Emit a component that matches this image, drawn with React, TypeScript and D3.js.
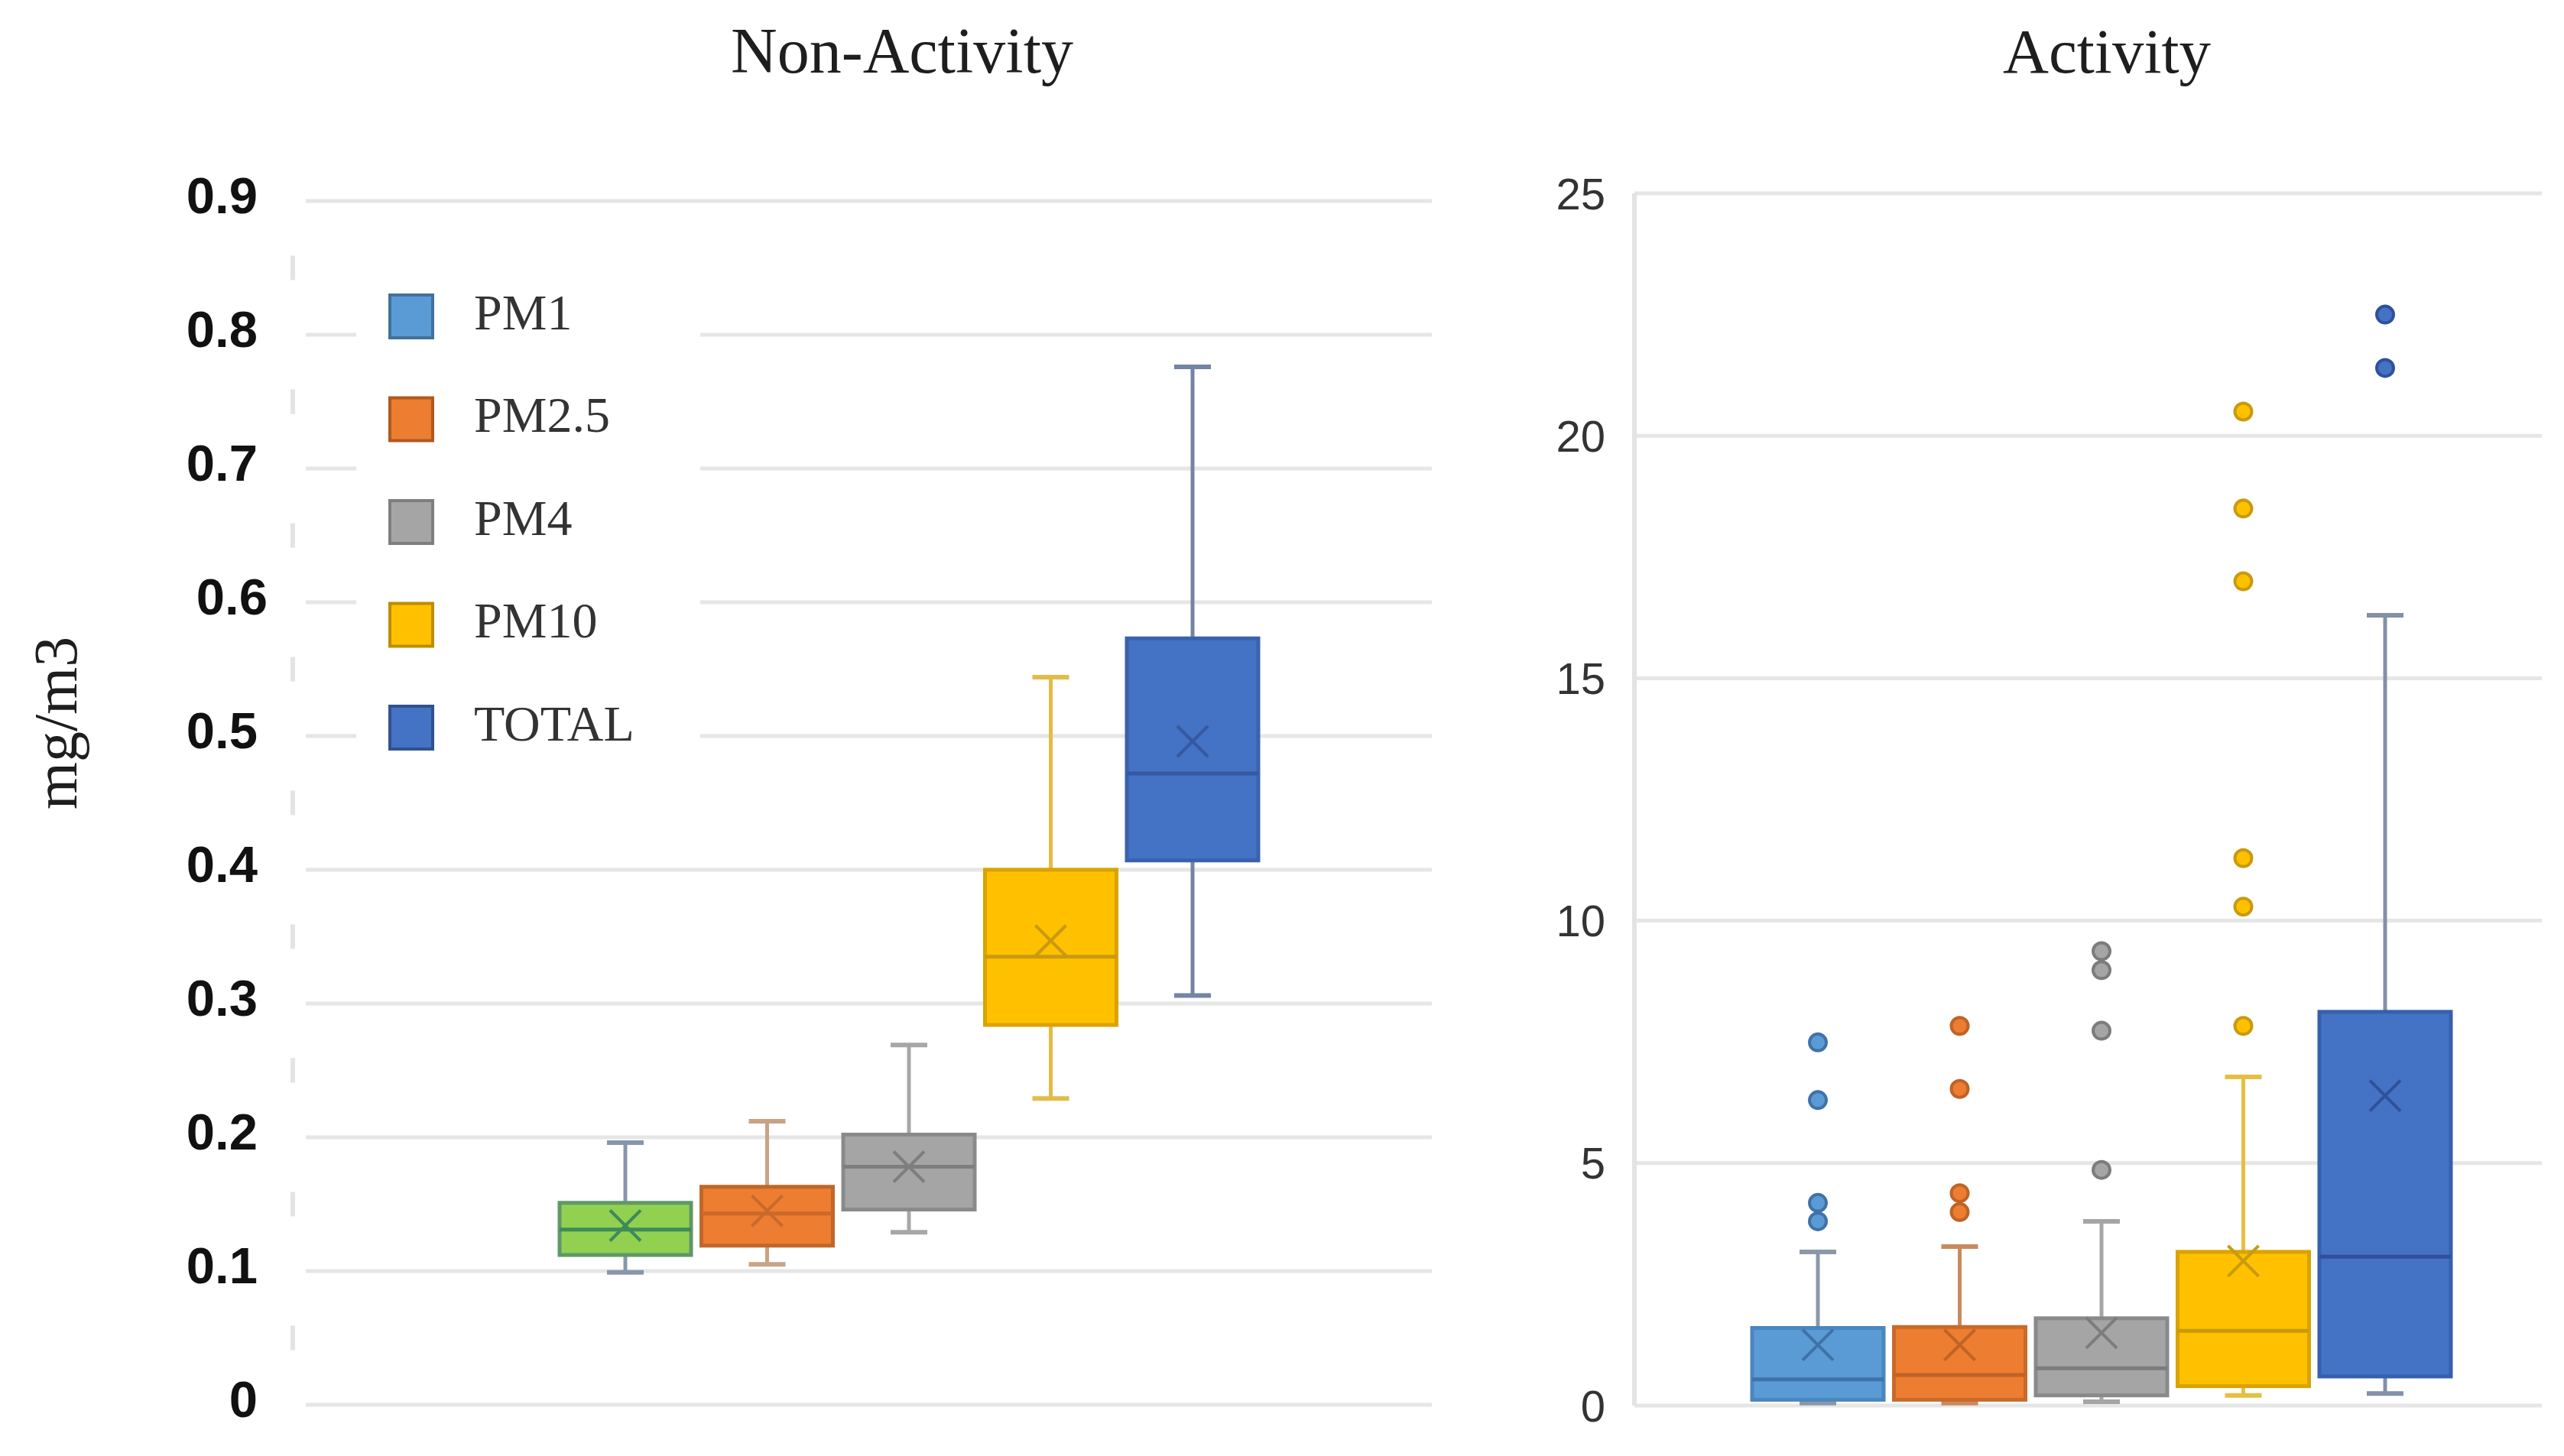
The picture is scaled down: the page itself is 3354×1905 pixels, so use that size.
import React from "react";
import * as d3 from "d3";

// categories and legend
const series = ["PM1", "PM2.5", "PM4", "PM10", "TOTAL"];

// Non-Activity (mg/m3)
const nonActLow = [0.099, 0.105, 0.129, 0.229, 0.306];
const nonActQ1 = [0.112, 0.119, 0.146, 0.284, 0.407];
const nonActMedian = [0.131, 0.143, 0.178, 0.335, 0.472];
const nonActQ3 = [0.151, 0.163, 0.202, 0.4, 0.573];
const nonActHigh = [0.196, 0.212, 0.269, 0.544, 0.776];
const nonActMean = [0.134, 0.145, 0.178, 0.347, 0.496];
const nonActTicks = [0, 0.1, 0.2, 0.3, 0.4, 0.5, 0.6, 0.7, 0.8, 0.9];

// Activity (mg/m3)
const actLow = [0.05, 0.05, 0.08, 0.21, 0.25];
const actQ1 = [0.12, 0.12, 0.21, 0.4, 0.6];
const actMedian = [0.54, 0.63, 0.77, 1.54, 3.07];
const actQ3 = [1.6, 1.62, 1.8, 3.17, 8.12];
const actHigh = [3.17, 3.28, 3.8, 6.78, 16.3];
const actMean = [1.25, 1.25, 1.5, 2.98, 6.39];
const actOutliers = [
  [7.49, 6.3, 4.18, 3.8],
  [7.83, 6.53, 4.38, 3.99],
  [9.37, 8.98, 7.73, 4.86],
  [20.5, 18.5, 17.0, 11.29, 10.29, 7.83],
  [22.5, 21.4],
];
const actTicks = [0, 5, 10, 15, 20, 25];

// styles
const legendFill = ["#5B9BD5", "#ED7D31", "#A5A5A5", "#FFC000", "#4472C4"];
const legendStroke = ["#41719C", "#AE5A21", "#7F7F7F", "#BC8C00", "#2F528F"];
const nonActFill = ["#92D050", "#ED7D31", "#A5A5A5", "#FFC000", "#4472C4"];
const nonActStroke = ["#5E9868", "#C0672A", "#8A8A8A", "#D9A300", "#3A62AC"];
const nonActWhisker = ["#8796AC", "#C9A386", "#A7A7A7", "#E3BC48", "#7384A4"];
const nonActMark = ["#3F8A5A", "#C96A2A", "#7E7E7E", "#C99A10", "#3658A0"];
const actStroke = ["#4A86C0", "#C86A2A", "#8A8A8A", "#D9A300", "#3660AE"];
const actWhisker = ["#8C98A8", "#C98A5E", "#A5A5A5", "#E6BF42", "#8290A8"];
const actMark = ["#3F72A8", "#BF6326", "#7C7C7C", "#C99A10", "#2F519A"];

const W = 3354;
const H = 1905;
const boxW = 172;
const capW = 48;

const gridColor = "#e6e6e6";

type BoxProps = {
  cx: number;
  y: d3.ScaleLinear<number, number>;
  low: number;
  q1: number;
  median: number;
  q3: number;
  high: number;
  mean: number;
  fill: string;
  stroke: string;
  whisker: string;
  mark: string;
  outliers?: number[];
};

function Box({ cx, y, low, q1, median, q3, high, mean, fill, stroke, whisker, mark, outliers = [] }: BoxProps) {
  const m = 20;
  const my = y(mean);
  return (
    <g>
      <line x1={cx} x2={cx} y1={y(high)} y2={y(q3)} stroke={whisker} strokeWidth={5} />
      <line x1={cx} x2={cx} y1={y(q1)} y2={y(low)} stroke={whisker} strokeWidth={5} />
      <line x1={cx - capW / 2} x2={cx + capW / 2} y1={y(high)} y2={y(high)} stroke={whisker} strokeWidth={6} />
      <line x1={cx - capW / 2} x2={cx + capW / 2} y1={y(low)} y2={y(low)} stroke={whisker} strokeWidth={6} />
      <rect
        x={cx - boxW / 2}
        y={y(q3)}
        width={boxW}
        height={y(q1) - y(q3)}
        fill={fill}
        stroke={stroke}
        strokeWidth={5}
      />
      <line x1={cx - boxW / 2} x2={cx + boxW / 2} y1={y(median)} y2={y(median)} stroke={mark} strokeWidth={5} />
      <line x1={cx - m} x2={cx + m} y1={my - m} y2={my + m} stroke={mark} strokeWidth={4} />
      <line x1={cx - m} x2={cx + m} y1={my + m} y2={my - m} stroke={mark} strokeWidth={4} />
      {outliers.map((o, i) => (
        <circle key={i} cx={cx} cy={y(o)} r={11} fill={fill} stroke={mark} strokeWidth={4} />
      ))}
    </g>
  );
}

export default function App() {
  const yL = d3.scaleLinear().domain([0, 0.9]).range([1838, 263]);
  const yR = d3.scaleLinear().domain([0, 25]).range([1839, 253]);
  const xL = d3.scalePoint<string>().domain(series).range([818, 1560]);
  const xR = d3.scalePoint<string>().domain(series).range([2378, 3120]);

  const leftGrid = [400, 1873];
  const rightGrid = [2138, 3325];

  // faint dashes of the left axis, half way between ticks
  const halfTicks = d3.pairs(nonActTicks).map(([a, b]) => (a + b) / 2);

  const legendY = d3.scalePoint<string>().domain(series).range([414, 952]);

  return (
    <svg
      width={W}
      height={H}
      viewBox={`0 0 ${W} ${H}`}
      style={{ position: "absolute", left: 0, top: 0, background: "#fff" }}
    >
      <rect width={W} height={H} fill="#fff" />

      {/* titles */}
      <text x={1180} y={95} textAnchor="middle" fontFamily="Liberation Serif" fontSize={84} fill="#1e1e1e">
        Non-Activity
      </text>
      <text x={2756} y={95} textAnchor="middle" fontFamily="Liberation Serif" fontSize={83} fill="#1e1e1e">
        Activity
      </text>
      <text
        transform="translate(100,946) rotate(-90)"
        textAnchor="middle"
        fontFamily="Liberation Serif"
        fontSize={80}
        fill="#1e1e1e"
      >
        mg/m3
      </text>

      {/* Non-Activity grid and axis */}
      {nonActTicks.map((t) => (
        <g key={t}>
          <line x1={leftGrid[0]} x2={leftGrid[1]} y1={yL(t)} y2={yL(t)} stroke={gridColor} strokeWidth={5} />
          <text
            x={t === 0.6 ? 350 : 337}
            y={yL(t) - 8}
            textAnchor="end"
            dominantBaseline="central"
            fontFamily="Liberation Sans"
            fontWeight="bold"
            fontSize={67}
            fill="#111"
          >
            {t === 0 ? "0" : t.toFixed(1)}
          </text>
        </g>
      ))}
      {halfTicks.map((t) => (
        <line key={t} x1={383} x2={383} y1={yL(t) - 16} y2={yL(t) + 16} stroke="#e4e4e4" strokeWidth={6} />
      ))}

      {/* legend */}
      <rect x={466} y={330} width={450} height={680} fill="#fff" />
      {series.map((s, i) => (
        <g key={s}>
          <rect
            x={510}
            y={(legendY(s) as number) - 28}
            width={56}
            height={56}
            fill={legendFill[i]}
            stroke={legendStroke[i]}
            strokeWidth={4}
          />
          <text
            x={620}
            y={(legendY(s) as number) - 6}
            dominantBaseline="central"
            fontFamily="Liberation Serif"
            fontSize={66}
            fill="#333"
          >
            {s}
          </text>
        </g>
      ))}

      {/* Non-Activity boxes */}
      {series.map((s, i) => (
        <Box
          key={s}
          cx={xL(s) as number}
          y={yL}
          low={nonActLow[i]}
          q1={nonActQ1[i]}
          median={nonActMedian[i]}
          q3={nonActQ3[i]}
          high={nonActHigh[i]}
          mean={nonActMean[i]}
          fill={nonActFill[i]}
          stroke={nonActStroke[i]}
          whisker={nonActWhisker[i]}
          mark={nonActMark[i]}
        />
      ))}

      {/* Activity grid and axis */}
      {actTicks.map((t) => (
        <g key={t}>
          <line x1={rightGrid[0]} x2={rightGrid[1]} y1={yR(t)} y2={yR(t)} stroke={gridColor} strokeWidth={5} />
          <text
            x={2100}
            y={yR(t)}
            textAnchor="end"
            dominantBaseline="central"
            fontFamily="Liberation Sans"
            fontSize={58}
            fill="#333"
          >
            {t}
          </text>
        </g>
      ))}
      <line x1={rightGrid[0]} x2={rightGrid[0]} y1={yR(25)} y2={yR(0)} stroke="#e3e3e3" strokeWidth={6} />

      {/* Activity boxes */}
      {series.map((s, i) => (
        <Box
          key={s}
          cx={xR(s) as number}
          y={yR}
          low={actLow[i]}
          q1={actQ1[i]}
          median={actMedian[i]}
          q3={actQ3[i]}
          high={actHigh[i]}
          mean={actMean[i]}
          fill={legendFill[i]}
          stroke={actStroke[i]}
          whisker={actWhisker[i]}
          mark={actMark[i]}
          outliers={actOutliers[i]}
        />
      ))}
    </svg>
  );
}
